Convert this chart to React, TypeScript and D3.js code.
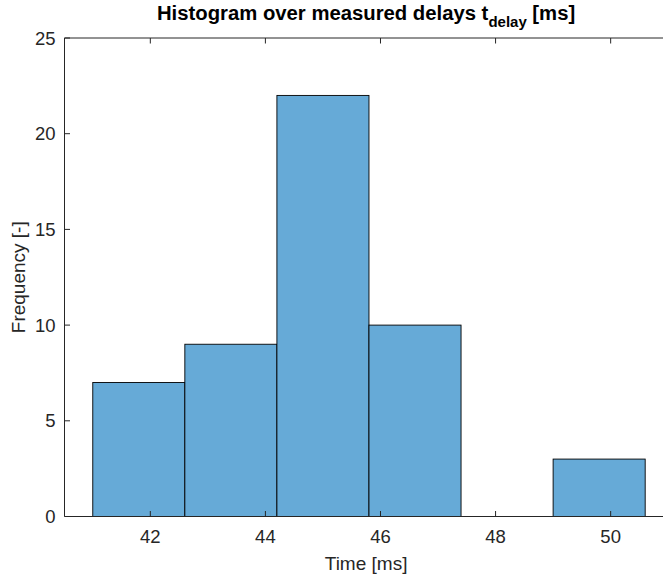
import React from "react";
import * as d3 from "d3";

const binEdges = [41, 42.6, 44.2, 45.8, 47.4, 49.0, 50.6];
const counts = [7, 9, 22, 10, 0, 3];
const xTicks = [42, 44, 46, 48, 50];
const yTicks = [0, 5, 10, 15, 20, 25];
const xDomain = [40.5, 51];
const yDomain = [0, 25];

const W = 663;
const H = 578;
const M = { left: 64, right: 668.2, top: 38, bottom: 516.5 };
const AX = "#262626";
const FONT = "'Liberation Sans', Arial, Helvetica, sans-serif";

export default function App() {
  const x = d3.scaleLinear().domain(xDomain).range([M.left, M.right]);
  const y = d3.scaleLinear().domain(yDomain).range([M.bottom, M.top]);
  const bins = counts.map((c, i) => ({ x0: binEdges[i], x1: binEdges[i + 1], c }));
  const tick = 5.5;
  const axL = 64.5;
  return (
    <svg
      width={W}
      height={H}
      style={{ position: "absolute", left: 0, top: 0, background: "#fff" }}
      fontFamily={FONT}
    >
      <rect x={0} y={0} width={W} height={H} fill="#fff" />
      {bins
        .filter((b) => b.c > 0)
        .map((b, i) => (
          <rect
            key={i}
            x={x(b.x0)}
            y={y(b.c)}
            width={x(b.x1) - x(b.x0)}
            height={y(0) - y(b.c)}
            fill="#66aad7"
            stroke="#000"
            strokeWidth={0.9}
          />
        ))}
      {/* axes box (right edge lies outside the picture) */}
      <line x1={axL} x2={M.right} y1={M.bottom} y2={M.bottom} stroke={AX} strokeWidth={1} />
      <line x1={axL} x2={M.right} y1={M.top} y2={M.top} stroke={AX} strokeWidth={1} />
      <line x1={axL} x2={axL} y1={M.top} y2={M.bottom} stroke={AX} strokeWidth={1} />
      {xTicks.map((t) => (
        <g key={"x" + t}>
          <line x1={x(t)} x2={x(t)} y1={M.bottom} y2={M.bottom - tick} stroke={AX} />
          <line x1={x(t)} x2={x(t)} y1={M.top} y2={M.top + tick} stroke={AX} />
          <text x={x(t)} y={543} textAnchor="middle" fontSize={18.5} fill={AX}>
            {t}
          </text>
        </g>
      ))}
      {yTicks.map((t) => (
        <g key={"y" + t}>
          <line x1={axL} x2={axL + tick} y1={y(t)} y2={y(t)} stroke={AX} />
          <text x={55.5} y={y(t) + 6.5} textAnchor="end" fontSize={18.5} fill={AX}>
            {t}
          </text>
        </g>
      ))}
      <text x={(M.left + M.right) / 2} y={570} textAnchor="middle" fontSize={19} fill={AX}>
        Time [ms]
      </text>
      <text
        transform={`translate(25,${(M.top + M.bottom) / 2}) rotate(-90)`}
        textAnchor="middle"
        fontSize={19}
        fill={AX}
      >
        Frequency [-]
      </text>
      <text
        x={(M.left + M.right) / 2}
        y={20}
        textAnchor="middle"
        fontSize={20.3}
        fontWeight="bold"
        fill="#000"
      >
        Histogram over measured delays t
        <tspan fontSize={15} dy={7}>delay</tspan>
        <tspan dy={-7}> [ms]</tspan>
      </text>
    </svg>
  );
}
